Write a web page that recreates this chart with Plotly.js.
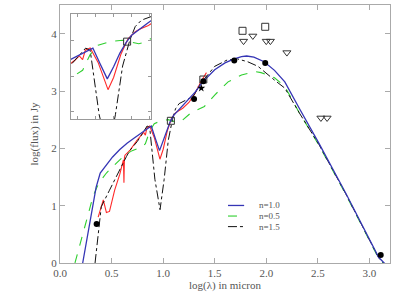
<!DOCTYPE html>
<html>
<head>
<meta charset="utf-8">
<script src="https://cdn.plot.ly/plotly-3.0.1.min.js"></script>
<style>html,body{margin:0;padding:0;background:#fff;}#chart{width:398px;height:300px;}</style>
</head>
<body>
<div id="chart"></div>
<script>
// n=1.0 model (blue solid)
const blueX = [0.22,0.30,0.35,0.39,0.45,0.51,0.58,0.65,0.72,0.79,0.86,0.885,0.925,0.965,1.00,1.035,1.07,1.10,1.19,1.31,1.38,1.50,1.60,1.69,1.76,1.81,1.88,1.98,2.08,2.18,2.32,2.51,2.77,3.09,3.17];
const blueY = [0,0.85,1.32,1.57,1.72,1.85,1.98,2.09,2.18,2.27,2.36,2.39,2.17,1.96,2.13,2.32,2.47,2.57,2.74,2.98,3.15,3.37,3.49,3.56,3.60,3.61,3.59,3.51,3.36,3.16,2.70,2.09,1.22,0.10,-0.05];
// n=0.5 model (green dashed)
const greenX = [0.145,0.20,0.24,0.28,0.32,0.36,0.40,0.45,0.51,0.58,0.645,0.70,0.76,0.785,0.828,0.87,0.914,0.98,1.05,1.10,1.14,1.18,1.27,1.40,1.50,1.63,1.76,1.89,1.95,2.08,2.18,2.32,2.51,2.77,3.09,3.17];
const greenY = [0,0.38,0.63,0.90,1.16,1.33,1.45,1.57,1.68,1.80,1.90,1.96,2.00,2.01,2.08,2.30,2.43,2.48,2.50,2.47,2.45,2.48,2.62,2.73,2.93,3.16,3.28,3.34,3.32,3.23,3.08,2.62,2.06,1.20,0.08,-0.07];
// n=1.5 model (black dash-dot)
const blackX = [0.34,0.40,0.48,0.56,0.645,0.68,0.75,0.80,0.845,0.87,0.92,0.97,1.01,1.05,1.09,1.12,1.155,1.22,1.29,1.36,1.50,1.62,1.72,1.82,1.92,2.08,2.18,2.32,2.51,2.77,3.09,3.17];
const blackY = [0,0.98,1.27,1.57,1.86,1.97,2.12,2.26,2.39,2.36,1.46,0.93,1.46,2.14,2.50,2.69,2.78,2.84,2.90,3.12,3.43,3.54,3.56,3.51,3.43,3.19,3.05,2.62,2.07,1.21,0.09,-0.06];
// observed spectrum (red)
const redX = [0.37,0.40,0.42,0.45,0.48,0.53,0.58,0.615,0.62,0.625,0.63,0.68,0.72,0.75,0.785,0.81,0.828,0.843,0.87,0.914,0.969,1.00,1.04,1.08,1.12,1.15,1.19,1.25,1.31,1.36,1.42];
const redY = [0.80,1.00,1.10,0.88,0.90,1.27,1.55,1.80,1.40,1.84,1.88,1.97,2.08,2.15,2.22,2.28,2.23,2.36,2.39,2.19,1.81,1.98,2.30,2.52,2.62,2.66,2.70,2.80,2.96,3.14,3.32];
// photometry
const dotX = [0.355,1.30,1.39,1.69,1.99,3.11];
const dotY = [0.68,2.86,3.17,3.53,3.49,0.14];
const starX = [1.37];
const starY = [3.05];
const sqX = [1.075,1.39,1.77,1.99];
const sqY = [2.48,3.20,4.05,4.12];
const triX = [1.78,1.87,2.00,2.04,2.20,2.53,2.59];
const triY = [3.87,3.96,3.87,3.87,3.67,2.53,2.53];
// axes ticks
const xTicks = [0,0.5,1.0,1.5,2.0,2.5,3.0];
const xTickText = ["0.0","0.5","1.0","1.5","2.0","2.5","3.0"];
const yTicks = [0,1,2,3,4];
const legendNames = ["n=1.0","n=0.5","n=1.5"];

const BLUE = "#3535b5", GREEN = "#2fcf2f", BLACK = "#111", RED = "#ff2a2a";

function series(xa, ya) {
  return [
    {x: redX, y: redY, mode: "lines", line: {color: RED, width: 1.1}},
    {x: greenX, y: greenY, mode: "lines", line: {color: GREEN, width: 1.1, dash: "dash"}},
    {x: blackX, y: blackY, mode: "lines", line: {color: BLACK, width: 1.0, dash: "dashdot"}},
    {x: blueX, y: blueY, mode: "lines", line: {color: BLUE, width: 1.3}},
    {x: sqX, y: sqY, mode: "markers", marker: {symbol: "square-open", size: 7, color: "#333", line: {width: 1}}},
  ].map(t => Object.assign(t, {xaxis: xa, yaxis: ya, showlegend: false, hoverinfo: "skip", cliponaxis: true}));
}

const traces = series("x", "y").concat(series("x2", "y2"));
traces.push({x: dotX, y: dotY, mode: "markers", marker: {symbol: "circle", size: 6, color: "#000"}, showlegend: false, xaxis: "x", yaxis: "y"});
traces.push({x: starX, y: starY, mode: "markers", marker: {symbol: "star", size: 6, color: "#000"}, showlegend: false, xaxis: "x", yaxis: "y"});
traces.push({x: triX, y: triY, mode: "markers", marker: {symbol: "triangle-down-open", size: 7, color: "#333", line: {width: 1}}, showlegend: false, xaxis: "x", yaxis: "y"});

const tickFont = {family: "Liberation Serif, DejaVu Serif, serif", size: 11, color: "#555"};
const frame = {showline: true, linecolor: "#aaa", linewidth: 1, mirror: "ticks", ticks: "inside", ticklen: 5, tickcolor: "#aaa", showgrid: false, zeroline: false};

// legend drawn as shapes + annotations
const legStyles = [{color: BLUE, dash: "solid", width: 1.3}, {color: GREEN, dash: "dash", width: 1.1}, {color: BLACK, dash: "dashdot", width: 1.0}];
const legY = [0.223, 0.182, 0.141];
const shapes = legStyles.map((s, i) => ({type: "line", xref: "paper", yref: "paper", x0: 0.509, x1: 0.558, y0: legY[i], y1: legY[i], line: s}));
const annotations = legendNames.map((n, i) => ({xref: "paper", yref: "paper", x: 0.6, y: legY[i], xanchor: "left", yanchor: "middle", text: n, showarrow: false, borderpad: 0, font: {family: "Liberation Serif, serif", size: 9, color: "#555"}}));

const layout = {
  width: 398, height: 300,
  margin: {l: 60, r: 8, t: 5, b: 37},
  paper_bgcolor: "#fff", plot_bgcolor: "#fff",
  showlegend: false,
  xaxis: Object.assign({}, frame, {range: [0, 3.2], tickvals: xTicks, ticktext: xTickText, tickfont: tickFont,
    title: {text: "log(λ) in micron", font: tickFont, standoff: 2}}),
  yaxis: Object.assign({}, frame, {range: [0, 4.5], tickvals: yTicks, tickfont: tickFont,
    title: {text: "log(flux) in Jy", font: tickFont, standoff: 10}}),
  xaxis2: Object.assign({}, frame, {domain: [0.033, 0.276], anchor: "y2", range: [0.763, 1.208], dtick: 0.1, tick0: 0, ticklen: 3, showticklabels: false, linecolor: "#999", tickcolor: "#999"}),
  yaxis2: Object.assign({}, frame, {domain: [0.558, 0.965], anchor: "x2", range: [1.40, 2.865], dtick: 0.5, tick0: 0, ticklen: 3, showticklabels: false, linecolor: "#999", tickcolor: "#999"}),
  shapes: shapes,
  annotations: annotations
};

Plotly.newPlot("chart", traces, layout, {staticPlot: true, displayModeBar: false});
</script>
</body>
</html>
